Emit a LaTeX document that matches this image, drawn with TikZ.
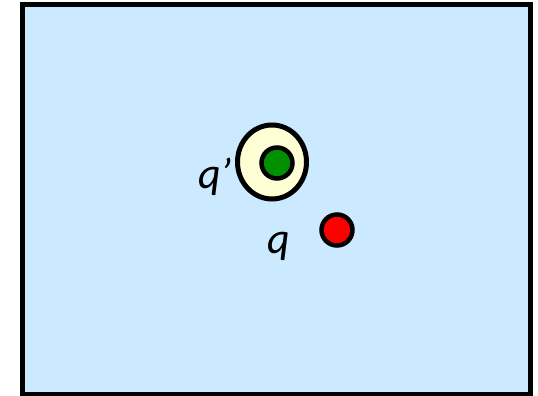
\documentclass[tikz,border=0pt]{standalone}
\usepackage{fontspec}
\setmainfont{Carlito}
\usetikzlibrary{shapes.geometric}
\definecolor{skyfill}{HTML}{CCEAFF}
\definecolor{halofill}{HTML}{FFFFD5}
\definecolor{dotgreen}{HTML}{008F00}
\definecolor{dotred}{HTML}{FF0000}

\begin{document}
\begin{tikzpicture}[x=1pt, y=-1pt, line width=5pt,
  dot/.style={circle, draw=black, line width=4.5pt, inner sep=0pt, minimum size=31pt},
  lab/.style={anchor=base, inner sep=0pt, font=\fontsize{44}{50}\selectfont\itshape}]
  \useasboundingbox (0,0) rectangle (538,396);
  % region
  \coordinate (TL) at (22.5,4.5);
  \coordinate (BR) at (530.5,394);
  \draw[fill=skyfill] (TL) rectangle (BR);
  % halo round q'
  \node[ellipse, draw=black, fill=halofill, inner sep=0pt,
        minimum width=69pt, minimum height=74pt] (halo) at (272,162) {};
  % q' and q
  \node[dot, fill=dotgreen] (qp) at (277,163) {};
  \node[dot, fill=dotred] (q) at (337,230) {};
  \node[lab] (qplab) at (215,188) {q’};
  \node[lab] (qlab) at (278.5,253) {q};
\end{tikzpicture}
\end{document}
